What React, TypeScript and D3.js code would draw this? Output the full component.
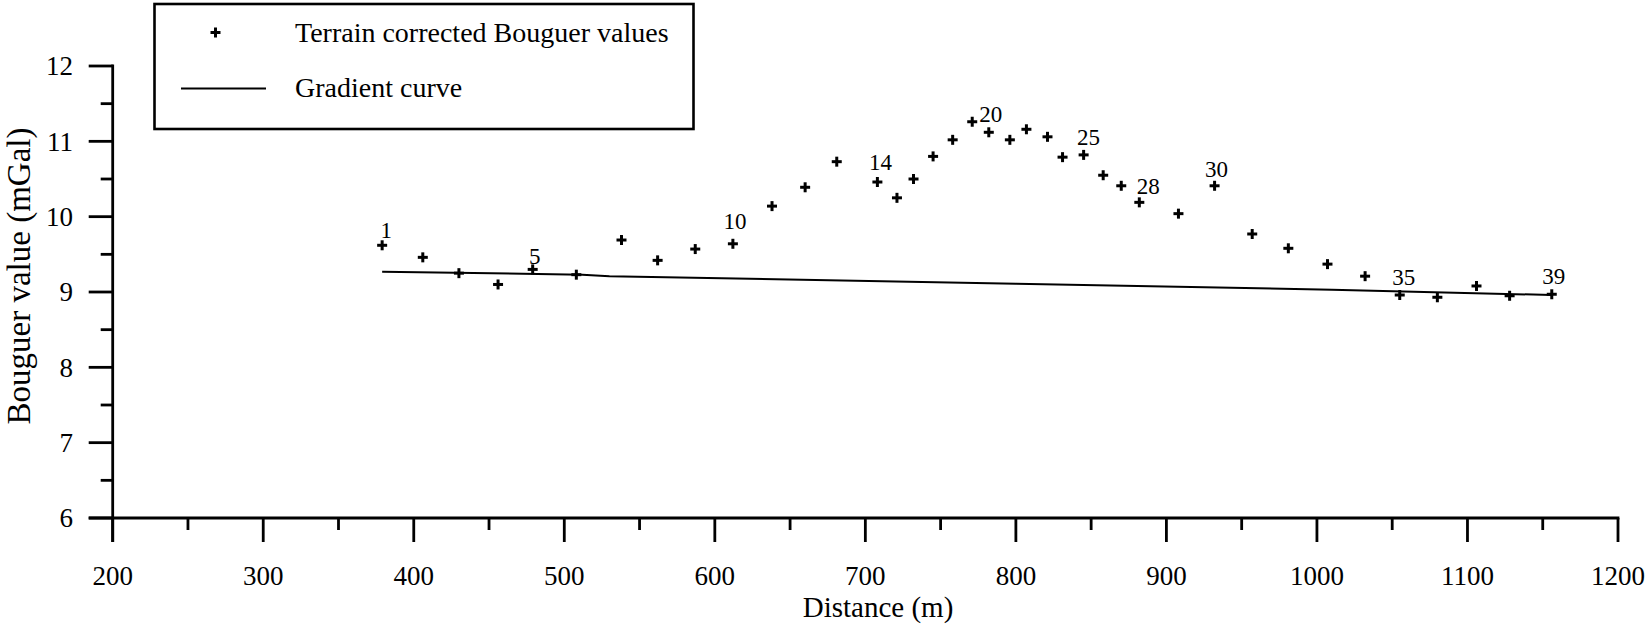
import React from "react";
import * as d3 from "d3";

// ---- data ----
const distances = [379, 406, 430, 456, 479, 508, 538, 562, 587, 612, 638, 660, 681, 708, 721, 732, 745, 758, 771, 782, 796, 807, 821, 831, 845, 858, 870, 882, 908, 932, 957, 981, 1007, 1032, 1055, 1080, 1106, 1128, 1156];
const bouguer = [9.62, 9.46, 9.25, 9.10, 9.30, 9.23, 9.69, 9.42, 9.57, 9.64, 10.14, 10.39, 10.73, 10.46, 10.25, 10.50, 10.80, 11.02, 11.26, 11.12, 11.02, 11.16, 11.06, 10.79, 10.82, 10.55, 10.41, 10.19, 10.04, 10.41, 9.77, 9.58, 9.37, 9.21, 8.96, 8.93, 9.08, 8.95, 8.97];
const gradientX = [379, 512, 530, 800, 1010, 1156];
const gradientY = [9.27, 9.23, 9.21, 9.11, 9.03, 8.96];
const labelledStations = [1, 5, 10, 14, 20, 25, 28, 30, 35, 39];
const xTicks = [200, 300, 400, 500, 600, 700, 800, 900, 1000, 1100, 1200];
const yTicks = [6, 7, 8, 9, 10, 11, 12];
const legendLabels = ["Terrain corrected Bouguer values", "Gradient curve"];
const xTitle = "Distance (m)";
const yTitle = "Bouguer value (mGal)";

// ---- styling / layout ----
const W = 1648;
const H = 630;
const FONT = "'Liberation Serif', 'Times New Roman', serif";
const labelOffsets: Record<number, [number, number]> = {
  1: [4, -7], 5: [2, -5], 10: [2, -15], 14: [3, -12], 20: [2, -10],
  25: [5, -10], 28: [9, -8], 30: [2, -9], 35: [4, -10], 39: [2, -10],
};

function Plus({ x, y, r = 5, w = 3 }: { x: number; y: number; r?: number; w?: number }) {
  return (
    <g stroke="#000" strokeWidth={w}>
      <line x1={x - r} x2={x + r} y1={y} y2={y} />
      <line x1={x} x2={x} y1={y - r} y2={y + r} />
    </g>
  );
}

export default function App() {
  const x = d3.scaleLinear().domain([200, 1200]).range([112.7, 1618]);
  const y = d3.scaleLinear().domain([6, 12]).range([518, 66]);

  const xMinor = d3.range(250, 1200, 100);
  const yMinor = d3.range(6.5, 12, 1);

  const line = d3
    .line<number>()
    .x((d, i) => x(gradientX[i]))
    .y((d) => y(d));

  const x0 = x(200);
  const y0 = y(6);

  return (
    <svg
      width={W}
      height={H}
      style={{ position: "absolute", left: 0, top: 0, background: "#fff" }}
      fontFamily={FONT}
    >
      <rect width={W} height={H} fill="#fff" />
      {/* axes */}
      <g stroke="#000" strokeWidth={2.8} strokeLinecap="butt">
        <line x1={x0} x2={x0} y1={y(12) - 1.4} y2={y0 + 24} />
        <line x1={x0 - 24} x2={x(1200) + 1.4} y1={y0} y2={y0} />
        {xTicks.map((t) => (
          <line key={"xt" + t} x1={x(t)} x2={x(t)} y1={y0} y2={y0 + 24} />
        ))}
        {xMinor.map((t) => (
          <line key={"xm" + t} x1={x(t)} x2={x(t)} y1={y0} y2={y0 + 12} />
        ))}
        {yTicks.map((t) => (
          <line key={"yt" + t} x1={x0 - 24} x2={x0} y1={y(t)} y2={y(t)} />
        ))}
        {yMinor.map((t) => (
          <line key={"ym" + t} x1={x0 - 12} x2={x0} y1={y(t)} y2={y(t)} />
        ))}
      </g>
      {/* tick labels */}
      <g fontSize={27} fill="#000">
        {xTicks.map((t) => (
          <text key={"xl" + t} x={x(t)} y={585} textAnchor="middle">
            {t}
          </text>
        ))}
        {yTicks.map((t) => (
          <text key={"yl" + t} x={73} y={y(t)} dy="0.34em" textAnchor="end">
            {t}
          </text>
        ))}
      </g>
      {/* axis titles */}
      <text x={878} y={617} fontSize={29} textAnchor="middle">
        {xTitle}
      </text>
      <text transform="translate(30,276) rotate(-90)" fontSize={33} textAnchor="middle">
        {yTitle}
      </text>

      {/* gradient curve */}
      <path d={line(gradientY) || ""} fill="none" stroke="#000" strokeWidth={2} />

      {/* points */}
      {distances.map((d, i) => (
        <Plus key={"p" + i} x={x(d)} y={y(bouguer[i])} />
      ))}

      {/* station labels */}
      <g fontSize={23}>
        {labelledStations.map((s) => {
          const [dx, dy] = labelOffsets[s];
          return (
            <text
              key={"s" + s}
              x={x(distances[s - 1]) + dx}
              y={y(bouguer[s - 1]) + dy}
              textAnchor="middle"
            >
              {s}
            </text>
          );
        })}
      </g>

      {/* legend */}
      <rect x={154.5} y={4} width={539} height={125} fill="#fff" stroke="#000" strokeWidth={2.6} />
      <Plus x={215.5} y={32.5} />
      <line x1={181} x2={266} y1={88.5} y2={88.5} stroke="#000" strokeWidth={2} />
      <g fontSize={28}>
        <text x={295} y={33} dy="0.33em">
          {legendLabels[0]}
        </text>
        <text x={295} y={88} dy="0.33em">
          {legendLabels[1]}
        </text>
      </g>
    </svg>
  );
}
